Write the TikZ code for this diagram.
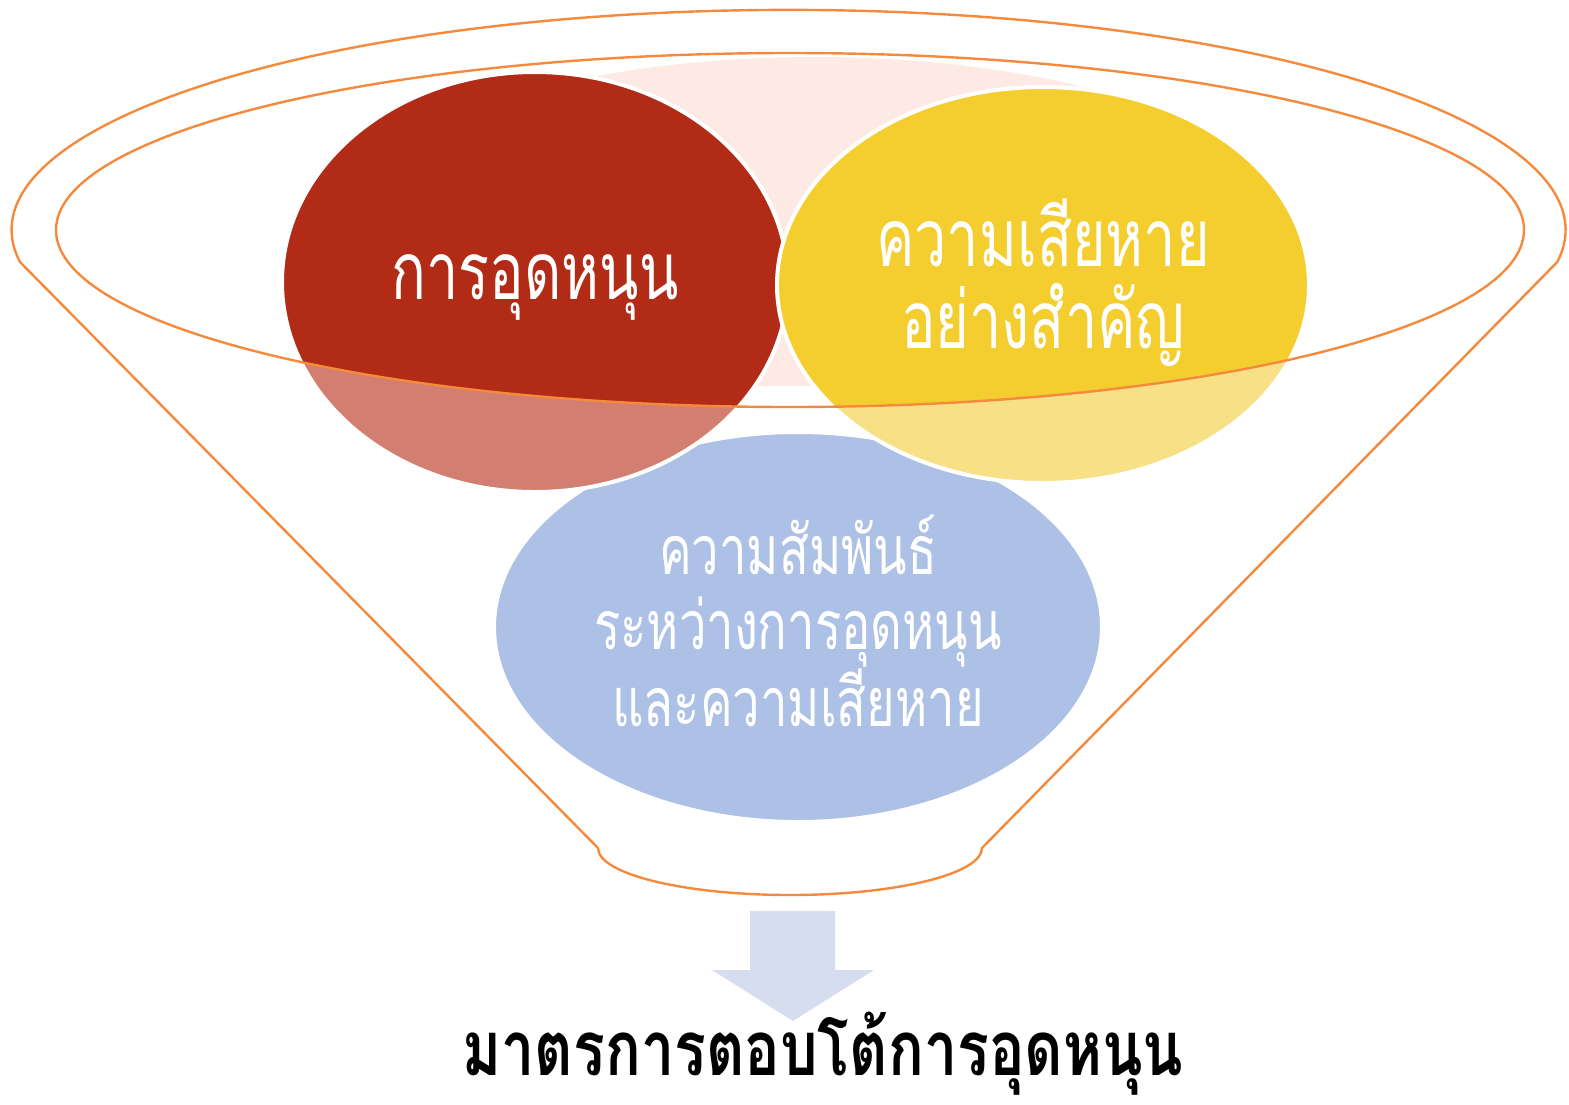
\documentclass[tikz,border=0pt]{standalone}
\usepackage{fontspec}
\newfontfamily\thaifont[Script=Thai,FakeStretch=0.72]{Loma}
\newfontfamily\thaiwide[Script=Thai,FakeStretch=0.78]{Loma}
\definecolor{funnelorange}{HTML}{F58A3C}
\definecolor{redfull}{HTML}{B12B17}
\definecolor{redlight}{HTML}{D27F72}
\definecolor{yelfull}{HTML}{F4CE2F}
\definecolor{yellight}{HTML}{F8E086}
\definecolor{bluelight}{HTML}{ADC1E6}
\definecolor{pinkfade}{HTML}{FDEAE5}
\definecolor{arrowfill}{HTML}{D6DDEF}
\tikzset{
  rim/.style={draw=funnelorange, line width=1.2pt},
  border/.style={draw=white, line width=2pt},
  intext/.style={text=white, align=center, inner sep=0pt, font=\thaifont\fontsize{40}{41}\selectfont},
  bluetext/.style={intext, font=\thaifont\fontsize{34}{37.5}\selectfont},
  outtext/.style={text=black, inner sep=0pt, font=\thaiwide\bfseries\fontsize{38}{40}\selectfont}
}
\begin{document}
\begin{tikzpicture}[x=0.5pt,y=-0.5pt]
\useasboundingbox (0,0) rectangle (1569,1104);
% faded fourth shape
\begin{scope}
  \clip (0,0) rectangle (1569,385);
  \fill[pinkfade] (815,225) ellipse [x radius=470, y radius=168];
\end{scope}
% blue
\fill[bluelight] (798,627) ellipse [x radius=304, y radius=195];
\draw[border] (798,627) ellipse [x radius=304, y radius=195];
% red
\fill[redlight] (535,282) ellipse [x radius=253, y radius=210];
\begin{scope}
  \clip (790,230) ellipse [x radius=734, y radius=177];
  \fill[redfull] (535,282) ellipse [x radius=253, y radius=210];
\end{scope}
\draw[border] (535,282) ellipse [x radius=253, y radius=210];
% yellow
\fill[yellight] (1043,285) ellipse [x radius=266, y radius=198];
\begin{scope}
  \clip (790,230) ellipse [x radius=734, y radius=177];
  \fill[yelfull] (1043,285) ellipse [x radius=266, y radius=198];
\end{scope}
\draw[border] (1043,285) ellipse [x radius=266, y radius=198];
% funnel
\draw[rim] (790,230) ellipse [x radius=734, y radius=177];
\draw[rim, line join=round] (20,262) arc [start angle=171.6, end angle=368.4, x radius=777, y radius=220]
  -- (982,848) arc [start angle=0, end angle=180, x radius=192, y radius=47] -- cycle;
% texts
\node[intext] (red) at (535,287) {การอุดหนุน};
\node[intext] (yellow) at (1043,283) {ความเสียหาย\\อย่างสำคัญ};
\node[bluetext] (blue) at (798,621) {ความสัมพันธ์\\ระหว่างการอุดหนุน\\และความเสียหาย};
% arrow
\fill[arrowfill] (750,911) -- (835,911) -- (835,970) -- (874,970) -- (793,1021) -- (712,970) -- (750,970) -- cycle;
\node[outtext] (result) at (823,1054) {มาตรการตอบโต้การอุดหนุน};
\end{tikzpicture}
\end{document}
